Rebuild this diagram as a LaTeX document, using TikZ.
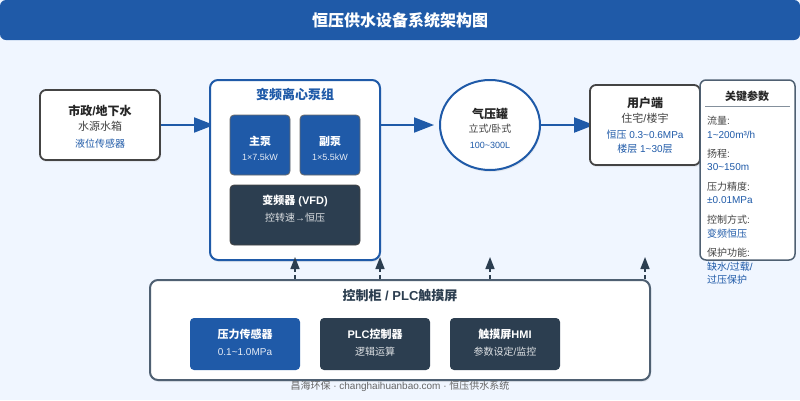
\documentclass[tikz,border=0pt]{standalone}
\usepackage{fontspec}
\setmainfont{Liberation Sans}
\newfontfamily\cjk{Noto Sans CJK SC}
\usetikzlibrary{arrows.meta,backgrounds,shadows,shapes.geometric}
\definecolor{bluemain}{HTML}{1F5AA8}
\definecolor{darkbox}{HTML}{2C3E50}
\definecolor{edgegrey}{HTML}{444444}
\definecolor{slateedge}{HTML}{4F6072}
\definecolor{pagebg}{HTML}{F0F6FF}
\newcommand{\fs}[1]{\fontsize{#1}{#1}\selectfont}
\tikzset{
	softshadow/.style={drop shadow={shadow xshift=1pt,shadow yshift=-2pt,opacity=.12}},
	outerbox/.style={draw=edgegrey,fill=white,line width=1.8pt,rounded corners=6pt,inner sep=0,softshadow},
	bluebox/.style={draw=edgegrey!80,fill=bluemain,line width=.8pt,rounded corners=4pt,inner sep=0},
	darkfill/.style={fill=darkbox,rounded corners=4pt,inner sep=0},
	flowline/.style={draw=bluemain,line width=2pt,-{Triangle[length=20pt,width=15pt]}},
	ctrlline/.style={draw=darkbox,line width=1.5pt,dash pattern=on 4pt off 3pt,-{Triangle[length=12pt,width=9pt]}},
	txt/.style={inner sep=0,align=center},
}
\begin{document}
\begin{tikzpicture}[x=1pt,y=-1pt]
	\useasboundingbox (0,0) rectangle (800,400);
	\begin{scope}[on background layer]
		\fill[pagebg] (0,0) rectangle (800,400);
	\end{scope}
	% title
	\node[fill=bluemain,rounded corners=6pt,minimum width=800pt,minimum height=40pt,inner sep=0] (titlebar) at (400,20) {};
	\node[txt,text=white,font=\fs{16}\bfseries\cjk] (titletext) at (400,20) {恒压供水设备系统架构图};
	% water source
	\node[outerbox,minimum width=120pt,minimum height=70pt] (source) at (100,125) {};
	\node[txt,font=\fs{12}\bfseries,text=black!85] (sourcea) at (100,111) {{\cjk 市政}/{\cjk 地下水}};
	\node[txt,font=\fs{11}\cjk,text=edgegrey] (sourceb) at (100,126) {水源水箱};
	\node[txt,font=\fs{10}\cjk,text=bluemain] (sourcec) at (100,144) {液位传感器};
	% pump group
	\node[draw=bluemain,fill=white,line width=2pt,rounded corners=8pt,inner sep=0,softshadow,minimum width=170pt,minimum height=180pt] (pumps) at (295,170) {};
	\node[txt,font=\fs{13}\bfseries\cjk,text=bluemain] (pumpstitle) at (295,95) {变频离心泵组};
	\node[bluebox,minimum width=60pt,minimum height=60pt] (mainpump) at (260,145) {};
	\node[txt,font=\fs{11}\bfseries\cjk,text=white] (mainpumpa) at (260,141) {主泵};
	\node[txt,font=\fs{9},text=white!88!bluemain] (mainpumpb) at (260,157) {1×7.5kW};
	\node[bluebox,minimum width=60pt,minimum height=60pt] (subpump) at (330,145) {};
	\node[txt,font=\fs{11}\bfseries\cjk,text=white] (subpumpa) at (330,141) {副泵};
	\node[txt,font=\fs{9},text=white!88!bluemain] (subpumpb) at (330,157) {1×5.5kW};
	\node[darkfill,draw=edgegrey,line width=.8pt,minimum width=130pt,minimum height=60pt] (vfd) at (295,215) {};
	\node[txt,font=\fs{11}\bfseries,text=white] (vfda) at (295,201) {{\cjk 变频器} (VFD)};
	\node[txt,font=\fs{10},text=white!85!darkbox] (vfdb) at (295,218) {{\cjk 控转速}→{\cjk 恒压}};
	% tank
	\node[ellipse,draw=bluemain,fill=white,line width=2pt,inner sep=0,softshadow,minimum width=100pt,minimum height=90pt] (tank) at (490,125) {};
	\node[txt,font=\fs{12}\bfseries\cjk,text=black!85] (tanka) at (490,114) {气压罐};
	\node[txt,font=\fs{10},text=edgegrey] (tankb) at (490,129) {{\cjk 立式}/{\cjk 卧式}};
	\node[txt,font=\fs{9},text=bluemain] (tankc) at (490,145) {100\textasciitilde 300L};
	% user side
	\node[outerbox,minimum width=110pt,minimum height=80pt] (user) at (645,125) {};
	\node[txt,font=\fs{12}\bfseries\cjk,text=black!85] (usera) at (645,103) {用户端};
	\node[txt,font=\fs{11},text=edgegrey] (userb) at (645,118) {{\cjk 住宅}/{\cjk 楼宇}};
	\node[txt,font=\fs{10},text=bluemain] (userc) at (645,134.5) {{\cjk 恒压} 0.3\textasciitilde 0.6MPa};
	\node[txt,font=\fs{10},text=bluemain] (userd) at (645,149) {{\cjk 楼层} 1\textasciitilde 30{\cjk 层}};
	% parameters
	\node[draw=slateedge,fill=white,line width=1.5pt,rounded corners=6pt,inner sep=0,minimum width=95pt,minimum height=180pt] (params) at (747.5,170) {};
	\node[txt,font=\fs{11}\bfseries\cjk,text=black!85] (paramstitle) at (747,96) {关键参数};
	\coordinate (rulea) at (705,106);
	\coordinate (ruleb) at (790,106);
	\draw[slateedge!70,line width=1pt] (rulea) -- (ruleb);
	\foreach \n/\y/\t in {a/120.5/{{\cjk 流量}:}, b/153.5/{{\cjk 扬程}:}, c/186.5/{{\cjk 压力精度}:}, d/219.5/{{\cjk 控制方式}:}, e/252.5/{{\cjk 保护功能}:}}{
		\node[txt,anchor=west,font=\fs{10},text=edgegrey] (paramname\n) at (707,\y) {\t};
	}
	\foreach \n/\y/\t in {a/134.5/{1\textasciitilde 200m³/h}, b/167.5/{30\textasciitilde 150m}, c/200.5/{±0.01MPa}, d/233.5/{{\cjk 变频恒压}}, e/266.5/{{\cjk 缺水}/{\cjk 过载}/}, f/279.5/{{\cjk 过压保护}}}{
		\node[txt,anchor=west,font=\fs{10},text=bluemain] (paramval\n) at (707,\y) {\t};
	}
	% control cabinet
	\node[draw=slateedge,fill=white,line width=2pt,rounded corners=8pt,inner sep=0,softshadow,minimum width=500pt,minimum height=100pt] (ctrl) at (400,330) {};
	\node[txt,font=\fs{13}\bfseries,text=darkbox] (ctrltitle) at (400,295.5) {{\cjk 控制柜} / PLC{\cjk 触摸屏}};
	\node[darkfill,fill=bluemain,minimum width=110pt,minimum height=52pt] (sensor) at (245,344) {};
	\node[txt,font=\fs{11}\bfseries\cjk,text=white] (sensora) at (245,334) {压力传感器};
	\node[txt,font=\fs{10},text=white!88!bluemain] (sensorb) at (245,352) {0.1\textasciitilde 1.0MPa};
	\node[darkfill,minimum width=110pt,minimum height=52pt] (plc) at (375,344) {};
	\node[txt,font=\fs{11}\bfseries,text=white] (plca) at (375,334) {PLC{\cjk 控制器}};
	\node[txt,font=\fs{10}\cjk,text=white!85!darkbox] (plcb) at (375,352) {逻辑运算};
	\node[darkfill,minimum width=110pt,minimum height=52pt] (hmi) at (505,344) {};
	\node[txt,font=\fs{11}\bfseries,text=white] (hmia) at (505,334) {{\cjk 触摸屏}HMI};
	\node[txt,font=\fs{10},text=white!85!darkbox] (hmib) at (505,352) {{\cjk 参数设定}/{\cjk 监控}};
	% footer
	\node[txt,font=\fs{10},text=black!60] (footer) at (400,386) {{\cjk 昌海环保} · changhaihuanbao.com · {\cjk 恒压供水系统}};
	% flow
	\begin{scope}[on background layer]
		\draw[flowline,shorten >=-5pt] (source.east) -- (source.east -| pumps.west);
		\draw[flowline,shorten >=5pt] (pumps.east |- tank.west) -- (tank.west);
		\draw[flowline,shorten >=-5pt] (tank.east) -- (user.west);
	\end{scope}
	% control lines
	\foreach \n/\x in {a/295, b/380, c/490, d/645}{
		\coordinate (up\n) at (\x,257);
		\draw[ctrlline] (ctrl.north -| up\n) -- (up\n);
	}
\end{tikzpicture}
\end{document}
